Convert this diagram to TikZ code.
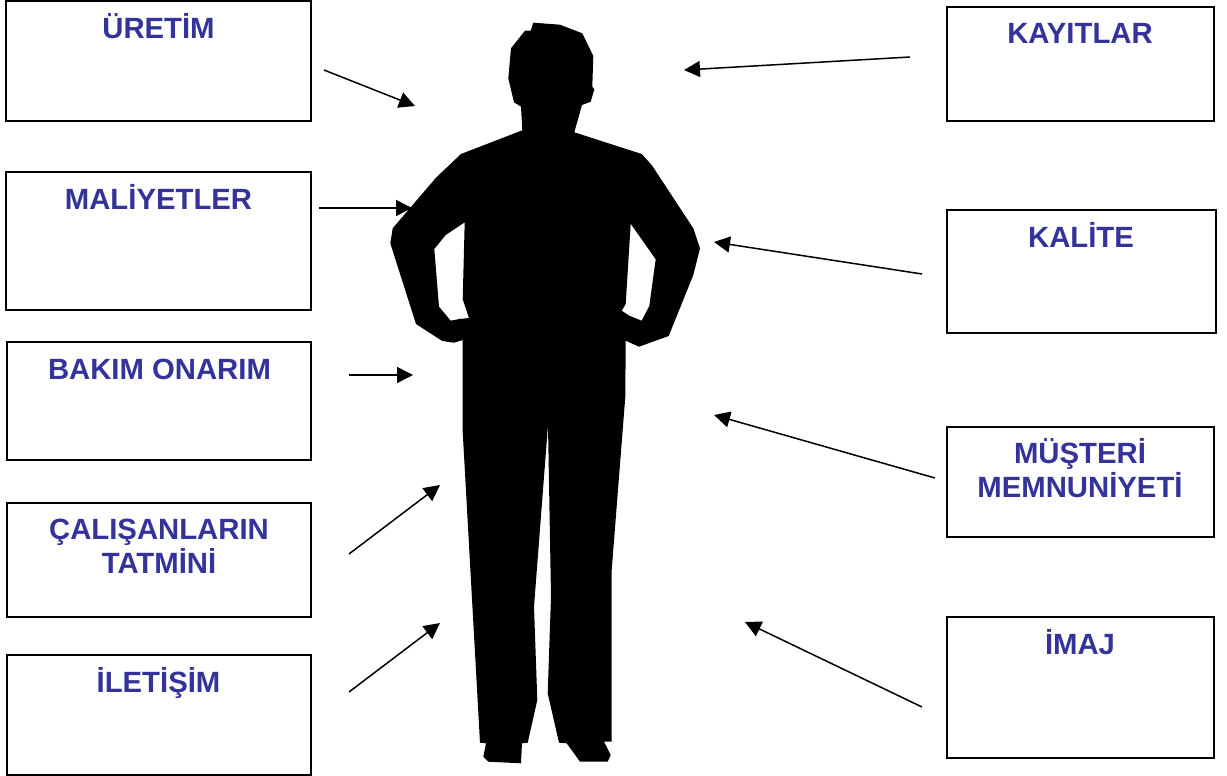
\documentclass[tikz,border=0pt]{standalone}
\usepackage{fontspec}
\usepackage{tikz}
\usetikzlibrary{arrows.meta}
\setmainfont{Liberation Sans}
\definecolor{baslikrenk}{RGB}{51,51,153}
\tikzset{
kutu/.style={draw, line width=1.4pt, inner sep=0pt},
baslik/.style={text=baslikrenk, font=\fontsize{29.3}{34}\selectfont\bfseries, align=center, inner sep=0pt},
ok/.style={line width=1.5pt, -{Triangle[length=16pt,width=16pt]}}
}
\begin{document}
\begin{tikzpicture}[x=1pt,y=-1pt]
\useasboundingbox (0,0) rectangle (1227,776);
% silhouette
\fill[black, even odd rule] (533.3,22.7) -- (560,24.7) -- (582.3,33.3) -- (593.3,56) -- (592.3,86.7) -- (594.3,89.3) -- (590.7,101.7) -- (582,105) -- (574.3,132.3) -- (641.7,154) -- (651.7,165) -- (693.3,228.3) -- (700,248.3) -- (693.3,275) -- (668.7,336) -- (639,346.7) -- (625.7,340.7) -- (625.3,396.7) -- (611.7,570) -- (611.7,741.7) -- (604,741.7) -- (610.7,755) -- (607.7,761.7) -- (580,761.7) -- (566.7,743.3) -- (559,742.7) -- (547.7,693.3) -- (551,596.7) -- (548,425) -- (534,606.7) -- (537.3,700) -- (527.7,742.7) -- (522,743.3) -- (521,763.3) -- (488.3,761.7) -- (483.3,756.7) -- (486,743.3) -- (480,742.7) -- (462.7,431.7) -- (462.7,340) -- (454,342.7) -- (442.3,341) -- (416,324) -- (390.3,243.3) -- (392.7,228.3) -- (436,177.7) -- (461,154) -- (522.3,130.3) -- (521,106.7) -- (514,102.3) -- (508.3,78.3) -- (511,48.3) -- (525,30.7) -- (530.7,30.7) -- cycle
(464.7,222.3) -- (445.7,235) -- (434.3,249) -- (439,306.7) -- (450.7,320.7) -- (459.3,319) -- (469,318) -- (462.7,299.3) -- cycle
(630.7,223.7) -- (655.7,259.3) -- (649.3,306) -- (641.7,320.7) -- (629.3,315.7) -- (621.7,310.7) -- (625.7,304) -- cycle;
% left boxes
\node[kutu, minimum width=305pt, minimum height=120pt] (uretim) at (158.5,61) {};
\node[kutu, minimum width=305pt, minimum height=138pt] (maliyet) at (158.5,241) {};
\node[kutu, minimum width=304pt, minimum height=118pt] (bakim) at (159,401) {};
\node[kutu, minimum width=304pt, minimum height=114pt] (calisan) at (159,560) {};
\node[kutu, minimum width=304pt, minimum height=120pt] (iletisim) at (159,715) {};
\node[baslik] (uretimyazi) at (158.5,26) {ÜRETİM};
\node[baslik] (maliyetyazi) at (158.5,197) {MALİYETLER};
\node[baslik] (bakimyazi) at (159.5,369) {BAKIM ONARIM};
\node[baslik] (calisanyazi) at (159,546) {ÇALIŞANLARIN\\TATMİNİ};
\node[baslik] (iletisimyazi) at (158.5,683) {İLETİŞİM};
% right boxes
\node[kutu, minimum width=267pt, minimum height=114pt] (kayit) at (1080.5,64) {};
\node[kutu, minimum width=269pt, minimum height=123pt] (kalite) at (1081.5,271.5) {};
\node[kutu, minimum width=267pt, minimum height=110pt] (musteri) at (1080.5,482) {};
\node[kutu, minimum width=267pt, minimum height=141pt] (imaj) at (1080.5,687.5) {};
\node[baslik] (kayityazi) at (1080,33) {KAYITLAR};
\node[baslik] (kaliteyazi) at (1081,235) {KALİTE};
\node[baslik] (musteriyazi) at (1080,468) {MÜŞTERİ\\MEMNUNİYETİ};
\node[baslik] (imajyazi) at (1080,642) {İMAJ};
% arrows
\coordinate (a1) at (324,70);   \coordinate (b1) at (415,106);
\coordinate (a2) at (319,208);  \coordinate (b2) at (412,208);
\coordinate (a3) at (349,375);  \coordinate (b3) at (413,375);
\coordinate (a4) at (349,554);  \coordinate (b4) at (440,485);
\coordinate (a5) at (349,692);  \coordinate (b5) at (440,623);
\coordinate (a6) at (910,57);   \coordinate (b6) at (684,70);
\coordinate (a7) at (922,274);  \coordinate (b7) at (714,242);
\coordinate (a8) at (935,478);  \coordinate (b8) at (714,415);
\coordinate (a9) at (922,707);  \coordinate (b9) at (745,622);
\foreach \i in {1,...,9}
\draw[ok] (a\i) -- (b\i);
\end{tikzpicture}
\end{document}
